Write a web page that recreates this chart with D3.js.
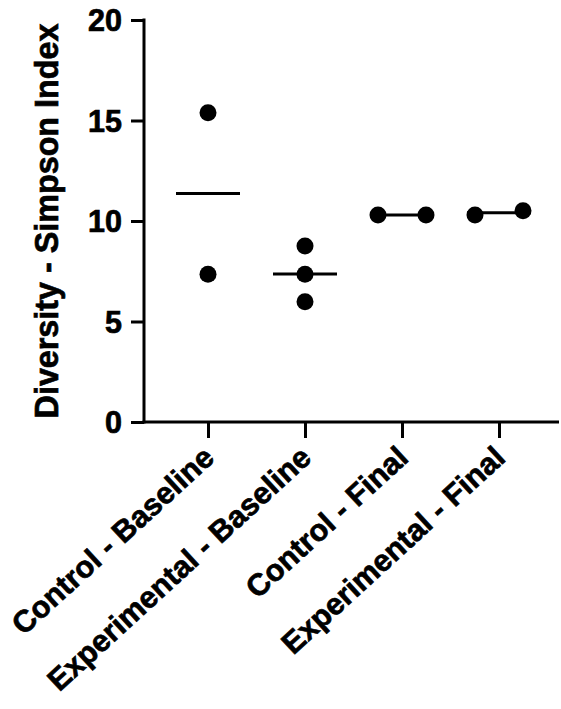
<!DOCTYPE html>
<html>
<head>
<meta charset="utf-8">
<script src="https://cdn.jsdelivr.net/npm/d3@7"></script>
<style>
  html, body { margin: 0; padding: 0; background: #fff; }
  svg { display: block; }
  text { font-family: "Liberation Sans", Arial, Helvetica, sans-serif; font-weight: bold; fill: #000; stroke: #000; stroke-width: 0.7px; }
</style>
</head>
<body>
<script>
// Group names along the x axis
const categories = ["Control - Baseline", "Experimental - Baseline", "Control - Final", "Experimental - Final"];
// Simpson index per sample, one array per group
const controlBaseline = [15.38, 7.35];
const experimentalBaseline = [8.76, 7.35, 5.98];
const controlFinal = [10.3, 10.3];
const experimentalFinal = [10.3, 10.51];
// Y axis ticks
const yTicks = [0, 5, 10, 15, 20];
const yLabel = "Diversity - Simpson Index";

const groups = [controlBaseline, experimentalBaseline, controlFinal, experimentalFinal]
  .map((vals, i) => ({ name: categories[i], values: vals }));

const W = 561, H = 709;
const axisX = 144, axisY = 422, topY = 20, rightX = 559;
const r = 8.5, spread = 48, meanHalf = 32;

const svg = d3.select("body").append("svg").attr("width", W).attr("height", H);

const y = d3.scaleLinear().domain([0, 20]).range([axisY, topY]);
const x = d3.scalePoint().domain(categories).range([208, 499]);

// Y axis
const yAxis = svg.append("g").attr("transform", `translate(${axisX},0)`)
  .call(d3.axisLeft(y).tickValues(yTicks).tickSize(13).tickPadding(9).tickSizeOuter(0));
yAxis.select(".domain").attr("stroke", "#000").attr("stroke-width", 3)
  .attr("d", `M0,${axisY + 1.5}V${topY - 1.5}`);
yAxis.selectAll(".tick line").attr("stroke", "#000").attr("stroke-width", 3);
yAxis.selectAll(".tick text").style("font-size", "30.5px").attr("dy", "0.36em");

// X axis
const xAxis = svg.append("g").attr("transform", `translate(0,${axisY})`)
  .call(d3.axisBottom(x).tickSize(16).tickSizeOuter(0).tickFormat(""));
xAxis.select(".domain").attr("stroke", "#000").attr("stroke-width", 3)
  .attr("d", `M${axisX - 1.5},0H${rightX}`);
xAxis.selectAll(".tick line").attr("stroke", "#000").attr("stroke-width", 3);

// Rotated category labels
svg.append("g").selectAll("text").data(categories).join("text")
  .attr("transform", d => `translate(${x(d) + 8},${axisY + 38}) rotate(-42.5)`)
  .attr("text-anchor", "end")
  .style("font-size", "30.5px")
  .text(d => d);

// Y axis title
svg.append("text")
  .attr("transform", `translate(58,${(axisY + topY) / 2}) rotate(-90)`)
  .attr("text-anchor", "middle")
  .style("font-size", "32.3px")
  .text(yLabel);

// Horizontal offsets for points that would overlap
function dodge(values) {
  const idx = values.map((v, i) => i).sort((a, b) => values[a] - values[b]);
  const offs = new Array(values.length).fill(0);
  let cluster = [idx[0]];
  const flush = () => {
    const n = cluster.length;
    cluster.forEach((k, j) => { offs[k] = (j - (n - 1) / 2) * spread; });
  };
  for (let j = 1; j < idx.length; j++) {
    const prev = cluster[cluster.length - 1];
    if (Math.abs(y(values[idx[j]]) - y(values[prev])) < 2 * r + 1) cluster.push(idx[j]);
    else { flush(); cluster = [idx[j]]; }
  }
  flush();
  return offs;
}

const g = svg.append("g");
groups.forEach(grp => {
  const cx = x(grp.name);
  const m = d3.mean(grp.values);
  g.append("line")
    .attr("x1", cx - meanHalf).attr("x2", cx + meanHalf)
    .attr("y1", y(m)).attr("y2", y(m))
    .attr("stroke", "#000").attr("stroke-width", 3);
  const offs = dodge(grp.values);
  g.selectAll(null).data(grp.values).join("circle")
    .attr("cx", (d, i) => cx + offs[i])
    .attr("cy", d => y(d))
    .attr("r", r)
    .attr("fill", "#000");
});
</script>
</body>
</html>
